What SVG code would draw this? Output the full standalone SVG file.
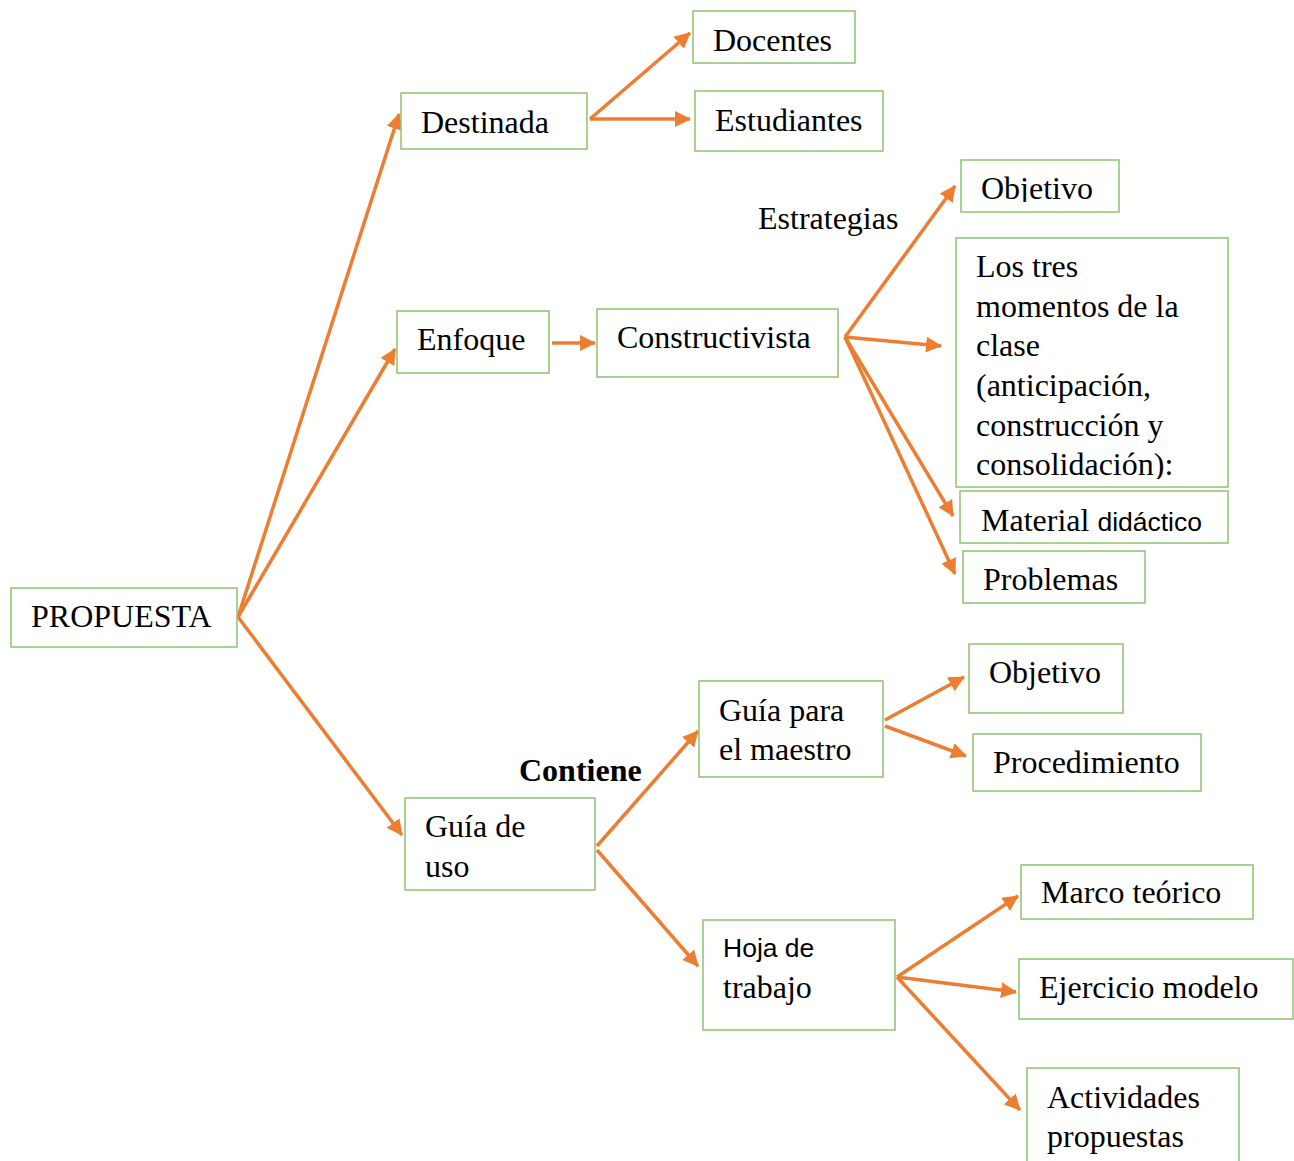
<svg xmlns="http://www.w3.org/2000/svg" width="1294" height="1161" viewBox="0 0 1294 1161">
<style>
.box{fill:#fff;stroke:#8DC26F;stroke-width:1.5}
.t{font-family:"Liberation Serif","Times New Roman",serif;font-size:32px;fill:#000}
.s{font-family:"Liberation Sans",Arial,sans-serif;font-size:26.5px;fill:#000}
.b{font-weight:bold}
.c{fill:none;stroke:#ED7D31;stroke-width:3.5;marker-end:url(#ah)}
</style>
<defs>
<marker id="ah" markerUnits="userSpaceOnUse" markerWidth="18" markerHeight="16" refX="15" refY="8" orient="auto">
<path d="M0,0 L16,8 L0,16 Z" fill="#ED7D31"/>
</marker>
<clipPath id="clipObj"><rect x="961" y="160" width="158" height="42"/></clipPath>
<clipPath id="clipLos"><rect x="956" y="238" width="272" height="241"/></clipPath>
</defs>
<rect width="1294" height="1161" fill="#fff"/>

<g id="connectors">
<line class="c" x1="238" y1="617" x2="399" y2="114"/>
<line class="c" x1="238" y1="617" x2="395" y2="349"/>
<line class="c" x1="238" y1="617" x2="402" y2="835"/>
<line class="c" x1="590" y1="119" x2="690" y2="33"/>
<line class="c" x1="590" y1="119" x2="690" y2="119"/>
<line class="c" x1="552" y1="343" x2="595" y2="343"/>
<line class="c" x1="845" y1="337" x2="955" y2="186"/>
<line class="c" x1="845" y1="337" x2="941" y2="346"/>
<line class="c" x1="845" y1="337" x2="953" y2="516"/>
<line class="c" x1="845" y1="337" x2="955" y2="574"/>
<line class="c" x1="597" y1="846" x2="698" y2="731"/>
<line class="c" x1="597" y1="850" x2="698" y2="966"/>
<line class="c" x1="885" y1="720" x2="964" y2="677"/>
<line class="c" x1="885" y1="726" x2="966" y2="756"/>
<line class="c" x1="897" y1="977" x2="1018" y2="896"/>
<line class="c" x1="897" y1="977" x2="1016" y2="992"/>
<line class="c" x1="897" y1="977" x2="1020" y2="1110"/>
</g>

<g id="propuesta"><rect class="box" x="11" y="588" width="226" height="59"/><text class="t" x="31" y="627">PROPUESTA</text></g>
<g id="destinada"><rect class="box" x="401" y="93" width="186" height="56"/><text class="t" x="421" y="133">Destinada</text></g>
<g id="docentes"><rect class="box" x="693" y="11" width="162" height="52"/><text class="t" x="713" y="51">Docentes</text></g>
<g id="estudiantes"><rect class="box" x="695" y="91" width="188" height="60"/><text class="t" x="715" y="131">Estudiantes</text></g>
<g id="enfoque"><rect class="box" x="397" y="311" width="152" height="62"/><text class="t" x="417" y="350">Enfoque</text></g>
<g id="constructivista"><rect class="box" x="597" y="309" width="241" height="68"/><text class="t" x="617" y="348">Constructivista</text></g>
<g id="label-estrategias"><text class="t" x="758" y="229">Estrategias</text></g>
<g id="objetivo1"><rect class="box" x="961" y="160" width="158" height="52"/><text class="t" x="981" y="199" clip-path="url(#clipObj)">Objetivo</text></g>
<g id="momentos"><rect class="box" x="956" y="238" width="272" height="249"/>
<g clip-path="url(#clipLos)">
<text class="t" x="976" y="277">Los tres</text>
<text class="t" x="976" y="317">momentos de la</text>
<text class="t" x="976" y="356">clase</text>
<text class="t" x="976" y="396">(anticipación,</text>
<text class="t" x="976" y="436">construcción y</text>
<text class="t" x="976" y="475">consolidación):</text>
</g></g>
<g id="material"><rect class="box" x="960" y="491" width="268" height="52"/><text class="t" x="981" y="531">Material <tspan font-family="Liberation Sans, Arial, sans-serif" font-size="26.5">didáctico</tspan></text></g>
<g id="problemas"><rect class="box" x="963" y="551" width="182" height="52"/><text class="t" x="983" y="590">Problemas</text></g>
<g id="guia-uso"><rect class="box" x="405" y="798" width="190" height="92"/><text class="t" x="425" y="837">Guía de</text><text class="t" x="425" y="877">uso</text></g>
<g id="label-contiene"><text class="t b" x="519" y="781">Contiene</text></g>
<g id="guia-maestro"><rect class="box" x="699" y="681" width="184" height="96"/><text class="t" x="719" y="721">Guía para</text><text class="t" x="719" y="760">el maestro</text></g>
<g id="objetivo2"><rect class="box" x="969" y="644" width="154" height="69"/><text class="t" x="989" y="683">Objetivo</text></g>
<g id="procedimiento"><rect class="box" x="973" y="734" width="228" height="57"/><text class="t" x="993" y="773">Procedimiento</text></g>
<g id="hoja"><rect class="box" x="703" y="920" width="192" height="110"/><text class="s" x="723" y="957">Hoja de</text><text class="t" x="723" y="998">trabajo</text></g>
<g id="marco"><rect class="box" x="1021" y="865" width="232" height="54"/><text class="t" x="1041" y="903">Marco teórico</text></g>
<g id="ejercicio"><rect class="box" x="1019" y="959" width="274" height="60"/><text class="t" x="1039" y="998">Ejercicio modelo</text></g>
<g id="actividades"><rect class="box" x="1027" y="1068" width="212" height="100"/><text class="t" x="1047" y="1108">Actividades</text><text class="t" x="1047" y="1147">propuestas</text></g>
</svg>
